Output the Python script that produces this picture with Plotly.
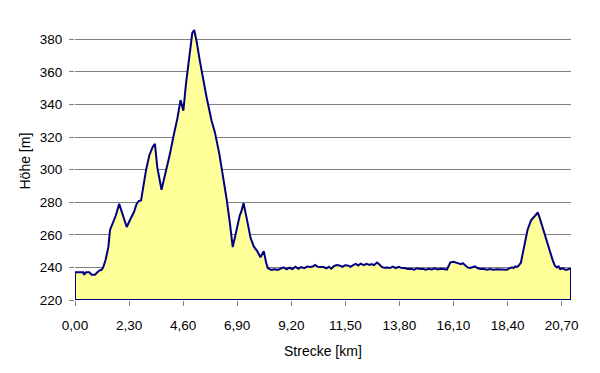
import plotly.graph_objects as go

# Distance along the course [km] and elevation [m]
strecke_km = [
    0.00, 0.35, 0.38, 0.47, 0.61, 0.71, 0.85, 0.95, 1.06, 1.13, 1.20, 1.30, 1.42,
    1.49, 1.63, 1.74, 1.88, 2.05, 2.20, 2.37, 2.51, 2.62, 2.71, 2.81, 2.90, 3.02,
    3.16, 3.30, 3.40, 3.50, 3.68, 3.87, 4.04, 4.21, 4.35, 4.49, 4.61, 4.72, 4.86,
    4.99, 5.07, 5.17, 5.31, 5.46, 5.60, 5.81, 5.95, 6.14, 6.31, 6.45, 6.59, 6.71,
    6.84, 6.90, 7.01, 7.07, 7.17, 7.32, 7.47, 7.61, 7.75, 7.89, 8.03, 8.13, 8.20,
    8.35, 8.50, 8.62, 8.75, 8.88, 9.00, 9.12, 9.25, 9.38, 9.50, 9.62, 9.75, 9.88,
    10.00, 10.12, 10.22, 10.32, 10.45, 10.58, 10.70, 10.80, 10.90, 11.00, 11.12,
    11.25, 11.38, 11.48, 11.60, 11.72, 11.85, 11.95, 12.05, 12.15, 12.28, 12.40,
    12.52, 12.62, 12.72, 12.85, 12.95, 13.05, 13.15, 13.28, 13.40, 13.52, 13.65,
    13.78, 13.90, 14.02, 14.15, 14.30, 14.42, 14.55, 14.68, 14.80, 14.92, 15.05,
    15.18, 15.30, 15.42, 15.55, 15.68, 15.82, 15.90, 15.96, 16.10, 16.22, 16.31,
    16.42, 16.50, 16.60, 16.70, 16.81, 16.92, 17.02, 17.12, 17.24, 17.38, 17.52,
    17.65, 17.80, 17.95, 18.09, 18.22, 18.37, 18.48, 18.59, 18.66, 18.73, 18.80,
    18.87, 18.97, 19.11, 19.25, 19.40, 19.50, 19.58, 19.69, 19.79, 19.96, 20.15,
    20.33, 20.42, 20.50, 20.57, 20.64, 20.78, 20.85, 20.92, 21.00, 21.10,
]
hoehe_m = [
    237.0, 237.0, 235.5, 237.0, 237.0, 235.5, 235.5, 237.0, 238.3, 238.5, 240.0, 244.5, 252.6,
    263.0, 268.0, 272.0, 279.0, 271.0, 264.8, 270.0, 274.0, 279.0, 280.7, 281.1, 289.3, 299.5,
    308.7, 313.8, 315.8, 301.5, 287.7, 298.5, 309.7, 321.9, 331.1, 342.7, 336.2, 352.5, 368.8,
    384.0, 385.7, 379.0, 366.8, 354.5, 344.3, 330.0, 323.0, 309.7, 295.4, 282.0, 267.0, 252.5,
    260.8, 265.0, 272.0, 274.0, 279.4, 269.0, 258.0, 252.7, 250.0, 246.2, 250.0, 243.0, 239.6,
    238.5, 238.8, 238.5, 239.5, 240.0, 238.8, 239.8, 239.0, 240.4, 239.2, 240.2, 239.5, 240.5,
    240.3, 240.6, 241.5, 240.4, 240.3, 240.2, 239.4, 240.4, 239.2, 240.6, 241.4,
    241.2, 240.4, 241.3, 241.2, 240.4, 241.6, 242.2, 241.2, 242.3, 241.4, 242.2,
    241.5, 242.1, 241.4, 243.0, 241.8, 240.3, 239.8, 240.0, 239.6, 240.5, 239.6,
    240.3, 239.6, 239.6, 239.0, 239.2, 238.6, 239.4, 239.0, 239.2, 238.6, 239.2,
    238.8, 239.4, 238.8, 239.2, 239.0, 238.6, 241.0, 243.0, 243.4, 242.8, 242.6,
    242.0, 242.6, 241.0, 240.0, 239.6, 240.2, 240.6, 239.6, 239.0, 239.2, 238.6,
    239.0, 238.6, 238.8, 238.6, 238.8, 238.6, 239.4, 240.0, 239.6, 240.6, 240.3,
    241.0, 243.0, 253.0, 263.0, 268.9, 270.5, 271.3, 273.7, 269.3, 261.2, 252.1,
    244.0, 241.0, 240.0, 240.6, 239.0, 239.4, 238.6, 238.6, 239.0, 239.0,
]

y_min = 220
y_max = 390
x_tick_vals = [0.0, 2.3, 4.6, 6.9, 9.2, 11.5, 13.8, 16.1, 18.4, 20.7]
x_tick_text = ["0,00", "2,30", "4,60", "6,90", "9,20", "11,50", "13,80", "16,10", "18,40", "20,70"]
y_tick_vals = [220, 240, 260, 280, 300, 320, 340, 360, 380]

# closed polygon: baseline -> profile -> baseline
poly_x = [strecke_km[0]] + strecke_km + [strecke_km[-1], strecke_km[0]]
poly_y = [y_min] + hoehe_m + [y_min, y_min]

fig = go.Figure()
fig.add_trace(go.Scatter(
    x=poly_x, y=poly_y, mode="lines", fill="toself",
    fillcolor="#FFFF99",
    line=dict(color="#000080", width=2),
    hoverinfo="skip", showlegend=False,
))

tick_font = dict(family="Liberation Sans, Arial, sans-serif", size=13.5, color="#000000")
title_font = dict(family="Liberation Sans, Arial, sans-serif", size=14, color="#000000")

# page body has an 8px default margin, so the figure is 8px smaller
fig.update_layout(
    width=592, height=365,
    margin=dict(l=67, r=29, t=15, b=73),
    paper_bgcolor="#FFFFFF", plot_bgcolor="#FFFFFF",
    font=tick_font,
    showlegend=False,
    xaxis=dict(
        range=[0, 21.1], tickmode="array", tickvals=x_tick_vals, ticktext=x_tick_text,
        showgrid=False, zeroline=False, showline=False, automargin=False,
        ticks="outside", ticklen=5, tickcolor="#808080", tickwidth=1,
        ticklabelstandoff=8,
        tickfont=tick_font,
    ),
    yaxis=dict(
        range=[y_min, y_max], tickmode="array", tickvals=y_tick_vals,
        showgrid=True, gridcolor="#808080", gridwidth=1,
        zeroline=False, showline=False, automargin=False,
        ticks="outside", ticklen=5, tickcolor="#808080", tickwidth=1,
        ticklabelstandoff=4,
        tickfont=tick_font,
    ),
    annotations=[
        dict(text="Strecke [km]", xref="paper", yref="paper", x=0.5, y=0, yshift=-51,
             xanchor="center", yanchor="middle", showarrow=False, font=title_font),
        dict(text="Höhe [m]", xref="paper", x=0, xshift=-51, yref="paper", y=0.5,
             xanchor="center", yanchor="middle", showarrow=False, textangle=-90, font=title_font),
    ],
)

fig.write_html("out.html")
